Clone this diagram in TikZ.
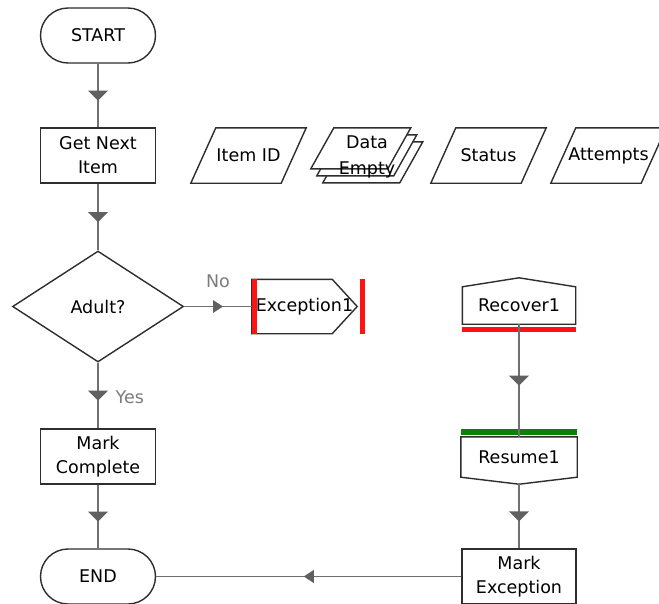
\documentclass[tikz,border=0pt]{standalone}
\usepackage{fontspec}
\setmainfont{DejaVu Sans}
\usetikzlibrary{shapes.geometric,decorations.markings,calc}

\definecolor{edgegray}{HTML}{707070}
\definecolor{headgray}{HTML}{606060}
\definecolor{outlinegray}{HTML}{2E2E2E}
\definecolor{labelgray}{HTML}{7C7C7C}
\definecolor{errred}{HTML}{FF1212}
\definecolor{okgreen}{HTML}{0B800B}

\pgfdeclarelayer{background}
\pgfsetlayers{background,main}

\tikzset{
  every node/.style={font=\fontsize{17.5}{24}\selectfont, inner sep=0pt},
  outline/.style={draw=outlinegray, line width=1.4pt, fill=white},
  terminal/.style={outline, rectangle, rounded corners=27.5pt,
    minimum width=115pt, minimum height=55pt},
  process/.style={outline, rectangle, align=center,
    minimum width=115pt, minimum height=55pt},
  decision/.style={outline, diamond, minimum width=171pt, minimum height=111pt},
  holder/.style={rectangle, align=center},
  flow/.style={draw=edgegray, line width=1.4pt, postaction={decorate},
    decoration={markings, mark=at position 0.5 with
      {\fill[headgray] (5pt,0) -- (-5pt,#1) -- (-5pt,-#1) -- cycle;}}},
  flow/.default=10pt,
  branch/.style={text=labelgray},
  errbar/.style={draw=errred, line width=5pt},
  okbar/.style={draw=okgreen, line width=6pt},
}

\begin{document}
\begin{tikzpicture}[x=1pt,y=-1pt]
\useasboundingbox (0,0) rectangle (659,603);

% main flow
\node[terminal] (start) at (98,35.5) {START};
\node[process] (get) at (98,155.5) {Get Next\\Item};
\node[decision] (dec) at (98,306.5) {Adult?};
\node[process] (mco) at (98,456.5) {Mark\\Complete};
\node[terminal] (end) at (98,576.5) {END};

% data items
\node[holder, minimum width=115pt, minimum height=55pt] (iid) at (248.5,155.5) {Item ID};
\node[holder, minimum width=112pt, minimum height=55pt] (dat) at (367,157) {Data\\[2pt]Empty};
\node[holder, minimum width=115pt, minimum height=55pt] (sta) at (488.5,155.5) {Status};
\node[holder, minimum width=115pt, minimum height=55pt] (att) at (608.5,155.5) {Attempts};

% exception handling
\node[holder, minimum width=105pt, minimum height=54pt] (exc) at (304.5,306.5) {Exception1};
\node[holder, minimum width=113pt, minimum height=37pt] (rec) at (519,305.5) {Recover1};
\node[holder, minimum width=116pt, minimum height=40pt] (res) at (519,457) {Resume1};
\coordinate (res-tip) at ([yshift=-7pt]res.south);
\node[process, minimum width=114pt] (mex) at (519,576.5) {Mark\\Exception};

\begin{pgfonlayer}{background}
  \fill[white] (0,0) rectangle (659,603);
  % parallelogram data items
  \foreach \n in {iid,sta,att}
    \path[outline] ([xshift=25pt]\n.north west) -- (\n.north east)
      -- ([xshift=-25pt]\n.south east) -- (\n.south west) -- cycle;
  % stacked collection
  \foreach \k in {2,1,0}
    \path[outline] ($(dat.north west)+(23+6*\k,-1.5+7*\k)$) -- ($(dat.north west)+(100+6*\k,-1.5+7*\k)$)
      -- ($(dat.north west)+(77+6*\k,39.5+7*\k)$) -- ($(dat.north west)+(6*\k,39.5+7*\k)$) -- cycle;
  % exception block
  \path[outline] (exc.north west) -- ([xshift=-25pt]exc.north east) -- (exc.east)
    -- ([xshift=-25pt]exc.south east) -- (exc.south west) -- cycle;
  % recover block
  \path[outline] (rec.south west) -- (rec.north west) -- ([yshift=9pt]rec.north)
    -- (rec.north east) -- (rec.south east) -- cycle;
  % resume block
  \path[outline] (res.north west) -- (res.north east) -- (res.south east)
    -- (res-tip) -- (res.south west) -- cycle;
\end{pgfonlayer}

% stage markers
\path[errbar] ([xshift=2.5pt]exc.north west) -- ([xshift=2.5pt]exc.south west);
\path[errbar] ([xshift=5pt]exc.north east) -- ([xshift=5pt]exc.south east);
\path[errbar] ([yshift=-5.5pt]rec.south west) -- ([yshift=-5.5pt]rec.south east);
\path[okbar] ([yshift=5pt]res.north west) -- ([yshift=5pt]res.north east);

% connectors
\draw[flow] (start) -- (get);
\draw[flow] (get) -- (dec);
\draw[flow=6.5pt] (dec.east) -- node[branch, above=18pt] {No} (exc.west);
\draw[flow] (dec.south) -- node[branch, right=17pt, yshift=-2pt] {Yes} (mco);
\draw[flow] (mco) -- (end);
\draw[flow] (rec.south) -- (res.north);
\draw[flow] (res-tip) -- (mex);
\draw[flow=6.5pt] (mex.west) -- (end.east);
\end{tikzpicture}
\end{document}
